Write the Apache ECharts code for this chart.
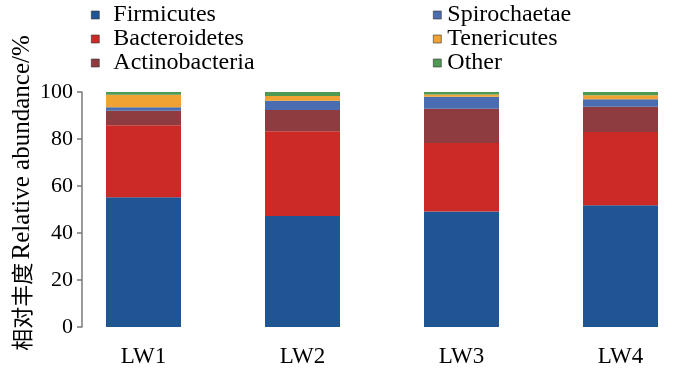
<!DOCTYPE html>
<html>
<head>
<meta charset="utf-8">
<script src="https://cdn.jsdelivr.net/npm/echarts@6/dist/echarts.min.js"></script>
<style>html,body{margin:0;padding:0;background:#fff}#c{width:700px;height:372px}</style>
</head>
<body>
<div id="c"></div>
<script>
var categories = ['LW1', 'LW2', 'LW3', 'LW4'];
var seriesNames = ['Firmicutes', 'Bacteroidetes', 'Actinobacteria', 'Spirochaetae', 'Tenericutes', 'Other'];
var firmicutes     = [55.2, 47.2, 49.2, 51.8];
var bacteroidetes  = [30.6, 36.1, 29.1, 31.2];
var actinobacteria = [6.2, 9.0, 14.6, 10.7];
var spirochaetae   = [1.5, 4.0, 5.1, 3.2];
var tenericutes    = [5.3, 2.0, 0.9, 1.7];
var other          = [1.2, 1.7, 1.1, 1.4];
var yTicks = [0, 20, 40, 60, 80, 100];
var colors = ['#1f5592', '#cc2a27', '#8e3c3f', '#4a6cb0', '#f0a232', '#4f9a52'];

var values = [firmicutes, bacteroidetes, actinobacteria, spirochaetae, tenericutes, other];
var serif = "'Liberation Serif', 'DejaVu Serif', serif";

var chart = echarts.init(document.getElementById('c'), null, {renderer: 'canvas'});
var series = seriesNames.map(function (n, i) {
  return {
    name: n, type: 'bar', stack: 'total', data: values[i],
    barWidth: 75, itemStyle: {color: colors[i]}
  };
});
var legendCommon = {
  orient: 'vertical', icon: 'rect', itemWidth: 8, itemHeight: 8, itemGap: 0, padding: 0,
  textStyle: {fontFamily: serif, fontSize: 24, color: '#000', lineHeight: 22.5},
  itemStyle: {borderColor: '#333', borderWidth: 0.6}
};
chart.setOption({
  animation: false,
  color: colors,
  grid: {left: 64, top: 92, width: 650, height: 235},
  legend: [
    Object.assign({}, legendCommon, {left: 91, top: 3, data: seriesNames.slice(0, 3),
      textStyle: Object.assign({}, legendCommon.textStyle, {padding: [0, 0, 0, 9]})}),
    Object.assign({}, legendCommon, {left: 433, top: 3, data: seriesNames.slice(3),
      textStyle: Object.assign({}, legendCommon.textStyle, {padding: [0, 0, 0, 1]})})
  ],
  xAxis: {
    type: 'category', data: categories,
    axisLine: {show: false}, axisTick: {show: false},
    axisLabel: {fontFamily: serif, fontSize: 23, color: '#000', margin: 18}
  },
  yAxis: {
    type: 'value', min: yTicks[0], max: yTicks[yTicks.length - 1], interval: 20, offset: -18,
    axisLine: {show: true, lineStyle: {color: '#7a7a7a', width: 1.5}},
    axisTick: {show: true, inside: false, length: 5, lineStyle: {color: '#7a7a7a', width: 1.5}},
    splitLine: {show: false},
    axisLabel: {fontFamily: serif, fontSize: 22, color: '#000', margin: 9}
  },
  graphic: [{
    type: 'text', x: 22, y: 193, rotation: Math.PI / 2,
    style: {
      text: '{a|相对丰度} {b|Relative abundance/%}',
      align: 'center', verticalAlign: 'middle',
      rich: {
        a: {fontFamily: "'Noto Sans CJK SC'", fontSize: 22, fill: '#000'},
        b: {fontFamily: serif, fontSize: 25, fill: '#000'}
      }
    }
  }],
  series: series
});
</script>
</body>
</html>
